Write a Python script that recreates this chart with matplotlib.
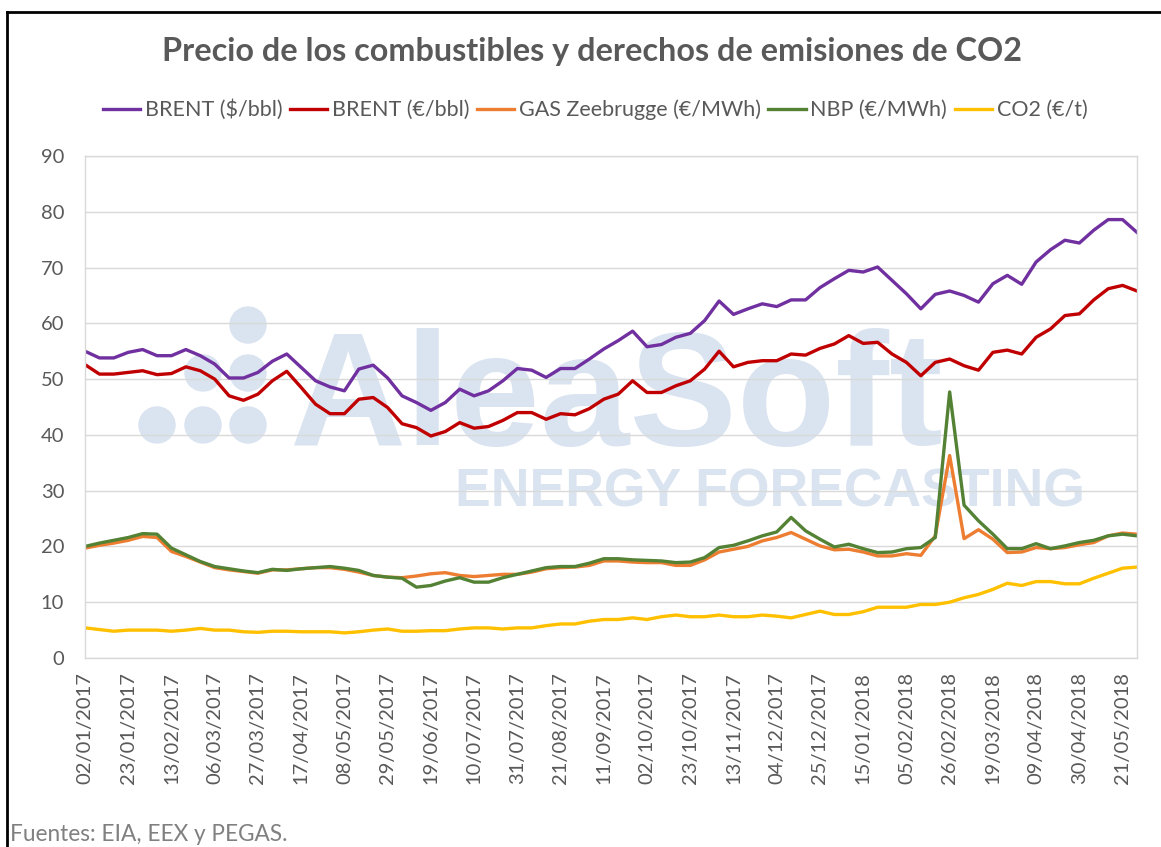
import matplotlib
matplotlib.use("Agg")
import matplotlib.pyplot as plt
from matplotlib.lines import Line2D
from matplotlib.patches import Ellipse
import numpy as np

W, H = 1161, 847

brent_usd = [55.0, 53.8, 53.8, 54.8, 55.3, 54.2, 54.2, 55.3, 54.2, 52.7,
             50.2, 50.2, 51.2, 53.2, 54.5, 52.1, 49.7, 48.6, 47.9, 51.8,
             52.5, 50.2, 47.0, 45.8, 44.4, 45.8, 48.2, 47.0, 47.9, 49.7,
             51.9, 51.6, 50.3, 51.9, 51.9, 53.6, 55.4, 56.9, 58.6, 55.8,
             56.2, 57.5, 58.2, 60.5, 64.0, 61.6, 62.6, 63.5, 63.0, 64.2,
             64.2, 66.4, 68.0, 69.5, 69.2, 70.1, 67.7, 65.3, 62.6, 65.2,
             65.8, 65.0, 63.8, 67.1, 68.6, 67.0, 71.0, 73.2, 74.9, 74.4,
             76.7, 78.6, 78.6, 76.3]
brent_eur = [52.6, 50.9, 50.9, 51.2, 51.5, 50.8, 51.0, 52.2, 51.5, 50.0,
             47.0, 46.2, 47.3, 49.7, 51.4, 48.5, 45.5, 43.8, 43.8, 46.4,
             46.7, 44.9, 42.0, 41.3, 39.8, 40.6, 42.2, 41.2, 41.5, 42.6,
             44.0, 44.0, 42.8, 43.8, 43.6, 44.7, 46.4, 47.3, 49.7, 47.6,
             47.6, 48.8, 49.7, 51.8, 55.0, 52.2, 53.0, 53.3, 53.3, 54.5,
             54.3, 55.5, 56.3, 57.8, 56.4, 56.6, 54.5, 53.0, 50.6, 53.0,
             53.6, 52.4, 51.6, 54.8, 55.2, 54.5, 57.5, 59.0, 61.4, 61.7,
             64.2, 66.2, 66.8, 65.8]
gas_zee = [19.7, 20.2, 20.6, 21.1, 21.8, 21.6, 19.1, 18.2, 17.2, 16.2,
           15.8, 15.5, 15.2, 15.8, 15.8, 16.0, 16.2, 16.2, 15.9, 15.4,
           14.8, 14.5, 14.4, 14.7, 15.1, 15.3, 14.8, 14.6, 14.8, 15.0,
           15.0, 15.4, 16.0, 16.2, 16.3, 16.6, 17.4, 17.4, 17.2, 17.1,
           17.1, 16.6, 16.6, 17.6, 19.0, 19.5, 20.0, 21.0, 21.6, 22.5,
           21.3, 20.1, 19.4, 19.5, 19.0, 18.3, 18.3, 18.7, 18.4, 21.9,
           36.3, 21.4, 23.0, 21.3, 18.9, 19.0, 19.8, 19.6, 19.8, 20.3,
           20.7, 21.9, 22.4, 22.2]
nbp = [20.0, 20.6, 21.1, 21.6, 22.3, 22.2, 19.7, 18.5, 17.3, 16.4,
       16.0, 15.6, 15.3, 15.9, 15.7, 16.0, 16.2, 16.4, 16.1, 15.7,
       14.8, 14.5, 14.3, 12.7, 13.0, 13.8, 14.4, 13.6, 13.6, 14.4,
       15.0, 15.6, 16.2, 16.4, 16.4, 17.0, 17.8, 17.8, 17.6, 17.5,
       17.4, 17.1, 17.2, 18.0, 19.8, 20.2, 21.0, 21.9, 22.6, 25.2,
       22.8, 21.3, 19.9, 20.4, 19.6, 18.9, 19.0, 19.6, 19.8, 21.6,
       47.7, 27.4, 24.6, 22.2, 19.6, 19.6, 20.5, 19.6, 20.1, 20.7,
       21.1, 21.9, 22.2, 21.9]
co2 = [5.4, 5.1, 4.8, 5.0, 5.0, 5.0, 4.8, 5.0, 5.3, 5.0,
       5.0, 4.7, 4.6, 4.8, 4.8, 4.7, 4.7, 4.7, 4.5, 4.7,
       5.0, 5.2, 4.8, 4.8, 4.9, 4.9, 5.2, 5.4, 5.4, 5.2,
       5.4, 5.4, 5.8, 6.1, 6.1, 6.6, 6.9, 6.9, 7.2, 6.9,
       7.4, 7.7, 7.4, 7.4, 7.7, 7.4, 7.4, 7.7, 7.5, 7.2,
       7.8, 8.4, 7.8, 7.8, 8.3, 9.1, 9.1, 9.1, 9.6, 9.6,
       10.0, 10.8, 11.4, 12.3, 13.4, 13.0, 13.7, 13.7, 13.3, 13.3,
       14.3, 15.2, 16.1, 16.3]

tick_labels = ["02/01/2017", "23/01/2017", "13/02/2017", "06/03/2017",
               "27/03/2017", "17/04/2017", "08/05/2017", "29/05/2017",
               "19/06/2017", "10/07/2017", "31/07/2017", "21/08/2017",
               "11/09/2017", "02/10/2017", "23/10/2017", "13/11/2017",
               "04/12/2017", "25/12/2017", "15/01/2018", "05/02/2018",
               "26/02/2018", "19/03/2018", "09/04/2018", "30/04/2018",
               "21/05/2018"]

series = [
    ("BRENT ($/bbl)", brent_usd, "#7030A0"),
    ("BRENT (€/bbl)", brent_eur, "#C00000"),
    ("GAS Zeebrugge (€/MWh)", gas_zee, "#ED7D31"),
    ("NBP (€/MWh)", nbp, "#548235"),
    ("CO2 (€/t)", co2, "#FFC000"),
]

plt.rcParams["font.family"] = ["Lato", "DejaVu Sans"]
grey = "#595959"

fig = plt.figure(figsize=(W / 100, H / 100), dpi=100)
ax = fig.add_axes([85 / W, 1 - 658 / H, (1137 - 85) / W, (658 - 156) / H])

# watermark
wm = "#DAE3F0"
for cx, cy in [(248, 325), (203, 373), (248, 373), (157, 425), (203, 425), (248, 425)]:
    fig.add_artist(Ellipse((cx / W, 1 - cy / H), 36 / W, 36 / H,
                           transform=fig.transFigure, color=wm, zorder=0.5))
fig.text(290 / W, 1 - 445 / H, "AleaSoft", fontsize=116, fontweight="bold",
         family="Liberation Sans", color=wm, ha="left", va="baseline", zorder=0.5)
fig.text(455 / W, 1 - 506 / H, "ENERGY FORECASTING", fontsize=38.5, fontweight="bold",
         family="Liberation Sans", color=wm, ha="left", va="baseline", zorder=0.5)
ax.set_facecolor("none")
ax.set_zorder(2)

x = np.arange(len(brent_usd))
for name, vals, col in series:
    ax.plot(x, vals, color=col, lw=2.4, label=name, solid_joinstyle="round")

ax.set_xlim(0, len(x) - 1)
ax.set_ylim(0, 90)
ax.set_yticks(range(0, 91, 10))
ax.set_xticks(x[::3])
ax.set_xticklabels(tick_labels, rotation=90)
ax.tick_params(length=0, labelsize=14.5, colors=grey)
ax.tick_params(axis="x", pad=10)
ax.tick_params(axis="y", pad=15)
ax.grid(axis="y", color="#D9D9D9", lw=1)
for s in ax.spines.values():
    s.set_color("#D9D9D9")
    s.set_linewidth(1)

fig.text(592 / W, 1 - 52 / H, "Precio de los combustibles y derechos de emisiones de CO2",
         fontsize=23.3, fontweight="bold", color=grey, ha="center", va="center")

fig.legend(loc="center", bbox_to_anchor=(595 / W, 1 - 110 / H), ncol=5, frameon=False,
           fontsize=15.5, handlelength=1.75, handletextpad=0.2, columnspacing=0.35,
           labelcolor=grey)

fig.text(10 / W, 1 - 834 / H, "Fuentes: EIA, EEX y PEGAS.", fontsize=16.3,
         color="#808080", ha="left", va="center")

# outer frame (left and top edges)
fig.add_artist(Line2D([7 / W, 7 / W], [0, 1 - 12 / H], color="black", lw=2,
                      transform=fig.transFigure))
fig.add_artist(Line2D([7 / W, 1], [1 - 12 / H, 1 - 12 / H], color="black", lw=2,
                      transform=fig.transFigure))

fig.savefig("out.png", dpi=100)
